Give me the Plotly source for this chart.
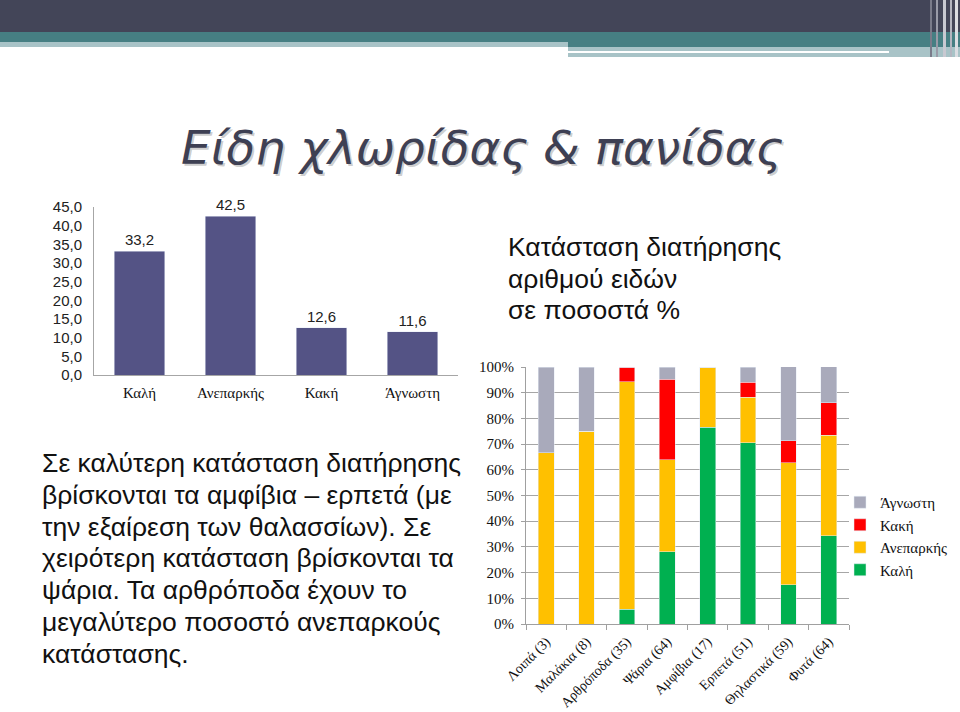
import plotly.graph_objects as go

W, H = 960, 712


def px(x):
    return x / W


def py(y):
    return 1 - y / H


# ---------------- data ----------------
status_cats = ["Καλή", "Ανεπαρκής", "Κακή", "Άγνωστη"]
status_values = [33.2, 42.5, 12.6, 11.6]

groups = ["Λοιπά (3)", "Μαλάκια (8)", "Αρθρόποδα (35)", "Ψάρια (64)",
          "Αμφίβια (17)", "Ερπετά (51)", "Θηλαστικά (59)", "Φυτά (64)"]
good = [0, 0, 5.7, 28.1, 76.5, 70.6, 15.3, 34.4]
inadequate = [66.7, 75.0, 88.6, 35.9, 23.5, 17.6, 47.5, 39.1]
bad = [0, 0, 5.7, 31.3, 0, 5.9, 8.5, 12.5]
unknown = [33.3, 25.0, 0, 4.7, 0, 5.9, 28.8, 14.1]

series_names = ["Καλή", "Ανεπαρκής", "Κακή", "Άγνωστη"]
series_values = [good, inadequate, bad, unknown]
series_colors = ["#00b050", "#ffc000", "#ff0000", "#a9aabb"]

title_text = "Είδη χλωρίδας & πανίδας"
right_text = ["Κατάσταση διατήρησης", "αριθμού ειδών", "σε ποσοστά %"]
body_text = [
    "Σε καλύτερη κατάσταση διατήρησης",
    "βρίσκονται τα αμφίβια – ερπετά (με",
    "την εξαίρεση των θαλασσίων). Σε",
    "χειρότερη κατάσταση βρίσκονται τα",
    "ψάρια. Τα αρθρόποδα έχουν το",
    "μεγαλύτερο ποσοστό ανεπαρκούς",
    "κατάστασης.",
]

SERIF = "Liberation Serif, DejaVu Serif, serif"
SANS = "Liberation Sans, Arial, sans-serif"
TITLE_FONT = "DejaVu Sans, Verdana, sans-serif"

fig = go.Figure()

fig.add_trace(go.Bar(
    x=status_cats, y=status_values, xaxis="x", yaxis="y",
    marker_color="#545385", width=0.56,
    texttemplate="%{y:.1f}", textposition="outside",
    textfont=dict(family=SANS, size=15, color="#222222"),
    cliponaxis=False, showlegend=False, hoverinfo="skip",
))

for name, vals, col in zip(series_names, series_values, series_colors):
    fig.add_trace(go.Bar(
        x=groups, y=vals, name=name, xaxis="x2", yaxis="y2",
        marker_color=col, width=0.39, legendgroup=name,
    ))

shapes = []


def rect(x0, y0, x1, y1, color):
    shapes.append(dict(type="rect", xref="paper", yref="paper",
                       x0=px(x0), x1=px(x1), y0=py(y1), y1=py(y0),
                       fillcolor=color, line=dict(width=0), layer="above"))


rect(0, 0, 960, 32, "#434558")
rect(0, 32, 960, 42, "#467f83")
rect(0, 42, 568, 47, "#a8c3c7")
rect(568, 42, 960, 47, "#467f83")
rect(568, 47, 960, 57, "#a8c3c7")
rect(568, 51, 889, 53, "#ffffff")
rect(930, 0, 932, 57, "#7a7b8a")
rect(936, 0, 938, 57, "#9a9ba8")
rect(943, 0, 946, 57, "#c8c9d1")
rect(950, 0, 952, 57, "#b4b5c0")
rect(955, 0, 958, 57, "#dcdde2")

annotations = []
# title shadow + title
annotations.append(dict(text="<i>" + title_text + "</i>", xref="paper", yref="paper",
                        x=px(484), y=py(149), xanchor="center", yanchor="middle",
                        showarrow=False,
                        font=dict(family=TITLE_FONT, size=47, color="rgba(0,0,0,0.2)")))
annotations.append(dict(text="<i>" + title_text + "</i>", xref="paper", yref="paper",
                        x=px(482), y=py(147), xanchor="center", yanchor="middle",
                        showarrow=False,
                        font=dict(family=TITLE_FONT, size=47, color="#3e4053")))

for i, line in enumerate(right_text):
    annotations.append(dict(text=line, xref="paper", yref="paper",
                            x=px(506), y=py(247 + 31.5 * i), xanchor="left",
                            yanchor="middle", showarrow=False,
                            font=dict(family=SANS, size=26.5, color="#111111")))

for i, line in enumerate(body_text):
    annotations.append(dict(text=line, xref="paper", yref="paper",
                            x=px(40), y=py(463 + 31.8 * i), xanchor="left",
                            yanchor="middle", showarrow=False,
                            font=dict(family=SANS, size=26.5, color="#111111")))

fig.update_layout(
    width=W, height=H,
    margin=dict(l=0, r=0, t=0, b=0, pad=0, autoexpand=False),
    paper_bgcolor="white", plot_bgcolor="white",
    barmode="stack",
    separators=",.",
    showlegend=True,
    legend=dict(x=px(840), y=py(486), xanchor="left", yanchor="top",
                traceorder="reversed", tracegroupgap=4, itemwidth=30,
                font=dict(family=SERIF, size=15, color="#111111"),
                bgcolor="rgba(0,0,0,0)"),
    xaxis=dict(domain=[px(94), px(458)], anchor="y", showline=True,
               linecolor="#a6a6a6", ticks="", showgrid=False, automargin=False,
               ticklabelstandoff=4,
               tickfont=dict(family=SERIF, size=15, color="#111111")),
    yaxis=dict(domain=[py(375), py(207)], anchor="x", range=[0, 45], dtick=5,
               tickformat=".1f", showline=True, linecolor="#a6a6a6",
               showgrid=False, zeroline=False, ticks="", automargin=False,
               ticklabelstandoff=8,
               tickfont=dict(family=SANS, size=15, color="#222222")),
    xaxis2=dict(domain=[px(526), px(849)], anchor="y2", showline=True,
                linecolor="#a0a0a0", ticks="outside", tickson="boundaries",
                ticklen=5, tickcolor="#a0a0a0", tickangle=-45, showgrid=False,
                automargin=False, ticklabelstandoff=3,
                tickfont=dict(family=SERIF, size=14, color="#111111")),
    yaxis2=dict(domain=[py(624), py(367)], anchor="x2", range=[0, 100], dtick=10,
                ticksuffix="%", showgrid=True, gridcolor="#a6a6a6",
                showline=True, linecolor="#a0a0a0", zeroline=False,
                ticks="outside", ticklen=4, tickcolor="#a0a0a0", automargin=False,
                ticklabelstandoff=4,
                tickfont=dict(family=SERIF, size=15, color="#111111")),
    shapes=shapes,
    annotations=annotations,
)

fig.write_html("out.html")
